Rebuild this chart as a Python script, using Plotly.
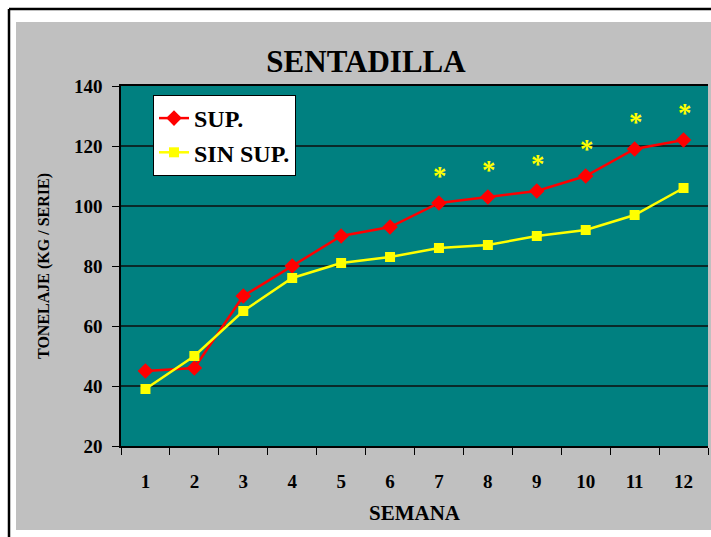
import plotly.graph_objects as go

# Weekly squat tonnage (kg per set)
semanas = ["1", "2", "3", "4", "5", "6", "7", "8", "9", "10", "11", "12"]
sup = [45, 46, 70, 80, 90, 93, 101, 103, 105, 110, 119, 122]
sin_sup = [39, 50, 65, 76, 81, 83, 86, 87, 90, 92, 97, 106]
# weeks with a significant difference between groups
significativo = [False, False, False, False, False, False, True, True, True, True, True, True]

FONT = "Liberation Serif, Times New Roman, serif"
W, H = 711, 537
L, R, T, B = 121, 3, 86, 91  # plot area margins (px)
pw, ph = W - L - R, H - T - B


def px_x(x):
    return (x - L) / pw


def px_y(y):
    return (H - B - y) / ph


fig = go.Figure()
fig.add_trace(go.Scatter(
    x=semanas, y=sup, name="SUP.", mode="lines+markers",
    line=dict(color="#FF0000", width=2.5),
    marker=dict(symbol="diamond", size=12, color="#FF0000"),
    legendgroup="a",
))
fig.add_trace(go.Scatter(
    x=semanas, y=sin_sup, name="SIN SUP.", mode="lines+markers",
    line=dict(color="#FFFF00", width=2.5),
    marker=dict(symbol="square", size=10, color="#FFFF00"),
    legendgroup="b",
))

annotations = []
for i, (v, sig) in enumerate(zip(sup, significativo)):
    if sig:
        annotations.append(dict(
            x=i, y=v, xref="x", yref="y", text="*", showarrow=False,
            yshift=27, xshift=1,
            font=dict(family=FONT, size=27, color="#FFFF00", weight="bold"),
        ))

# white page outside the grey chart area, plus the black frame
shapes = [
    dict(type="rect", xref="paper", yref="paper", layer="below",
         x0=px_x(-5), x1=px_x(720), y0=px_y(22), y1=px_y(-5),
         fillcolor="white", line=dict(width=0)),
    dict(type="rect", xref="paper", yref="paper", layer="below",
         x0=px_x(-5), x1=px_x(16), y0=px_y(545), y1=px_y(-5),
         fillcolor="white", line=dict(width=0)),
    dict(type="rect", xref="paper", yref="paper", layer="below",
         x0=px_x(-5), x1=px_x(720), y0=px_y(545), y1=px_y(530),
         fillcolor="white", line=dict(width=0)),
    dict(type="line", xref="paper", yref="paper", layer="below",
         x0=px_x(9), x1=px_x(720), y0=px_y(9), y1=px_y(9),
         line=dict(color="black", width=2.5)),
    dict(type="line", xref="paper", yref="paper", layer="below",
         x0=px_x(9), x1=px_x(9), y0=px_y(9), y1=px_y(545),
         line=dict(color="black", width=2.5)),
]

fig.update_layout(
    width=W, height=H,
    margin=dict(l=L, r=R, t=T, b=B),
    paper_bgcolor="#C0C0C0",
    plot_bgcolor="#008080",
    font=dict(family=FONT, color="black"),
    title=dict(text="SENTADILLA", x=366 / W, xanchor="center",
               y=(H - 61) / H, yanchor="middle",
               font=dict(family=FONT, size=31, color="black", weight="bold")),
    showlegend=True,
    legend=dict(x=px_x(153), y=px_y(95), xanchor="left", yanchor="top",
                bgcolor="white", bordercolor="black", borderwidth=1,
                font=dict(family=FONT, size=24, color="black", weight="bold"),
                traceorder="grouped", tracegroupgap=0,
                itemwidth=30),
    annotations=annotations,
    shapes=shapes,
)
fig.update_xaxes(
    type="category", tickson="boundaries", ticks="outside", ticklen=7,
    tickcolor="black", showline=True, linecolor="black", linewidth=1.5,
    mirror=True, showgrid=False, range=[-0.5, 11.5],
    tickfont=dict(family=FONT, size=19, color="black", weight="bold"),
    ticklabelstandoff=17,
    title=dict(text="SEMANA", font=dict(family=FONT, size=21, color="black", weight="bold"),
               standoff=15),
)
fig.update_yaxes(
    range=[20, 140], dtick=20, ticks="outside", ticklen=7, tickcolor="black",
    showline=True, linecolor="black", linewidth=1.5,
    showgrid=True, gridcolor="#0a2a2a", gridwidth=1.5, zeroline=False,
    tickfont=dict(family=FONT, size=19, color="black", weight="bold"),
    tickformat="d", ticklabelstandoff=6,
    title=dict(text="TONELAJE (KG / SERIE)",
               font=dict(family=FONT, size=16, color="black", weight="bold"), standoff=20),
)

fig.write_html("out.html")
